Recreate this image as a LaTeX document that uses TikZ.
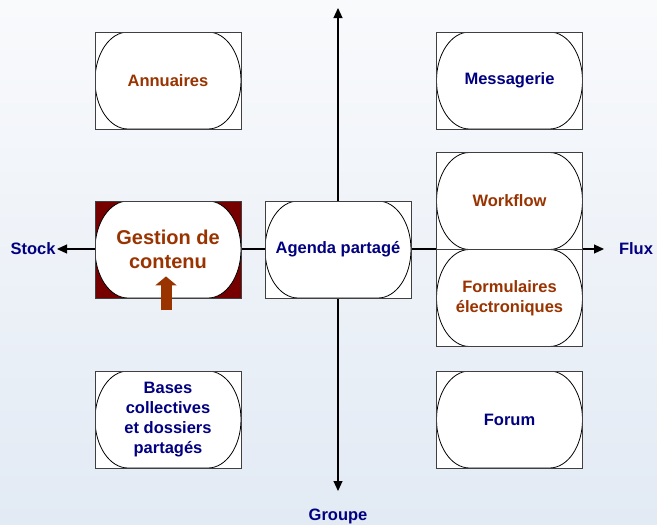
\documentclass[tikz,border=0pt]{standalone}
\usepackage{fontspec}
\setmainfont{Liberation Sans}
\usetikzlibrary{arrows.meta, positioning, calc}

\definecolor{bgtop}{RGB}{249,250,252}
\definecolor{bgbottom}{RGB}{226,234,244}
\definecolor{brownish}{RGB}{153,51,0}
\definecolor{navyish}{RGB}{0,0,128}
\definecolor{darkred}{RGB}{118,0,0}

\begin{document}
\begin{tikzpicture}[
        x=1pt, y=-1pt,
        % --- Styles ---
        cell/.style={rectangle, draw=black!75, line width=0.8pt, fill=white, minimum width=146pt, minimum height=97pt, inner sep=0pt, align=center, font=\bfseries\fontsize{16.5}{20}\selectfont,
            path picture={
                \draw[black, line width=0.8pt, fill=white]
                    ([xshift=33pt]path picture bounding box.north west) -- ([xshift=-33pt]path picture bounding box.north east)
                    arc[start angle=90, end angle=-90, x radius=33pt, y radius=48.5pt]
                    -- ([xshift=33pt]path picture bounding box.south west)
                    arc[start angle=270, end angle=90, x radius=33pt, y radius=48.5pt] -- cycle;
            }},
        stockcell/.style={cell, text=brownish},
        groupcell/.style={cell, text=navyish},
        axislabel/.style={font=\bfseries\fontsize{16.5}{20}\selectfont, text=navyish},
        % --- Line Styles ---
        axis/.style={draw, {Triangle[length=10pt,width=9pt]}-{Triangle[length=10pt,width=9pt]}, black, line width=1.1pt},
        pointer/.style={draw, -{Triangle[length=9pt,width=21pt]}, brownish, line width=11pt}
    ]

        % --- Background ---
        \useasboundingbox (0,0) rectangle (657,525);
        \shade[top color=bgtop, bottom color=bgbottom] (0,0) rectangle (657,525);

        % --- Axes ---
        \coordinate (west) at (57,249);
        \coordinate (east) at (604,249);
        \coordinate (north) at (338,8);
        \coordinate (south) at (338,491);
        \draw[axis] (west) -- (east);
        \draw[axis] (south) -- (north);
        \node[axislabel] (stock) at (33,249) {Stock};
        \node[axislabel] (flux) at (636,249) {Flux};
        \node[axislabel] (groupe) at (338,516) {Groupe};

        % --- Top Row ---
        \node[stockcell] (annuaires) at (168,80.5) {Annuaires};
        \node[groupcell] (messagerie) at (509.5,80.5) {Messagerie};

        % --- Middle Row ---
        \node[stockcell, fill=darkred, font=\bfseries\fontsize{20}{24}\selectfont] (gestion) at (168,249.5) {Gestion de\\contenu};
        \node[groupcell] (agenda) at (338,249.5) {Agenda partagé};
        \node[stockcell] (workflow) at (509.5,201) {Workflow};
        \node[stockcell] (formulaires) at (509.5,298) {Formulaires\\électroniques};

        % --- Bottom Row ---
        \node[groupcell] (bases) at (168,419.5) {Bases\\collectives\\et dossiers\\partagés};
        \node[groupcell] (forum) at (509.5,419.5) {Forum};

        % --- Pointer ---
        \draw[pointer] ([xshift=-2pt,yshift=-12pt]gestion.south) -- ([xshift=-2pt,yshift=22pt]gestion.south);

    \end{tikzpicture}
\end{document}
